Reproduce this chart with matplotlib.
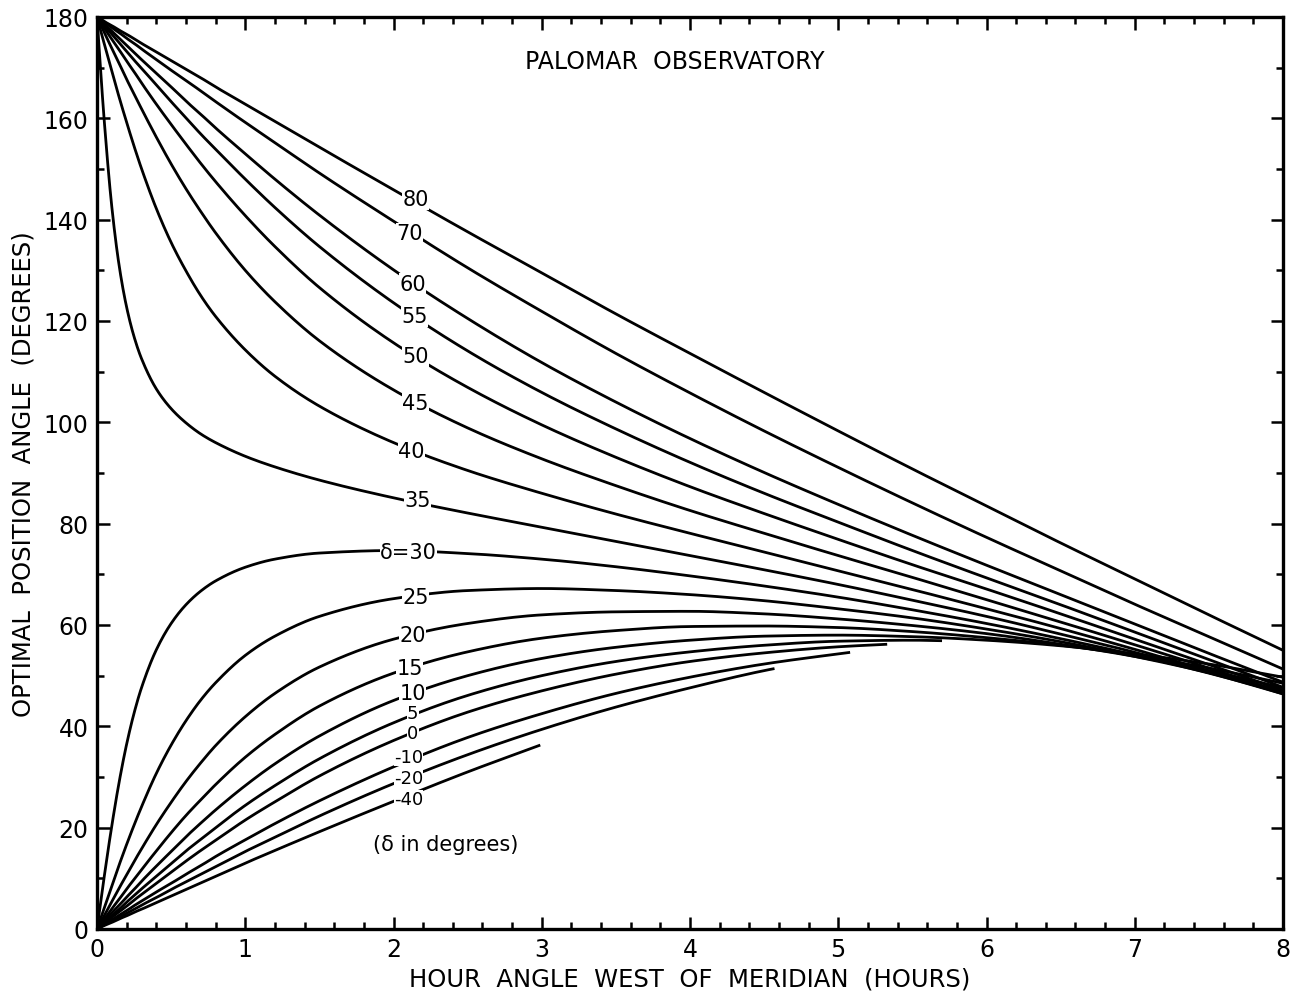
# Optimal position angle vs hour angle, Palomar Observatory

import numpy as np
import matplotlib
matplotlib.use("Agg")
import matplotlib.pyplot as plt
from matplotlib.ticker import MultipleLocator

# hour angle grid (hours west of meridian)
hours = [0, 0.02, 0.05, 0.1, 0.15, 0.2, 0.25, 0.3, 0.4, 0.5, 0.6, 0.7, 0.8, 1.0, 1.2,
         1.5, 2, 2.5, 3, 3.5, 4, 4.5, 5, 5.5, 6, 6.5, 7, 7.5, 8]

# optimal position angle (degrees) for each declination
pa_80 = [180.0, 179.7, 179.1, 178.3, 177.4, 176.6, 175.7, 174.8, 173.1, 171.4, 169.7, 168.0, 166.2, 162.8,
         159.4, 154.3, 145.9, 137.6, 129.5, 121.4, 113.6, 105.9, 98.3, 90.8, 83.5, 76.2, 69.1, 62.0, 55.0]
pa_70 = [180.0, 179.6, 179.0, 177.9, 176.9, 175.8, 174.8, 173.7, 171.6, 169.5, 167.5, 165.4, 163.3, 159.2,
         155.2, 149.2, 139.7, 130.5, 121.9, 113.6, 105.8, 98.3, 91.1, 84.1, 77.3, 70.7, 64.1, 57.7, 51.3]
pa_60 = [180.0, 179.4, 178.6, 177.2, 175.8, 174.4, 173.0, 171.6, 168.9, 166.2, 163.4, 160.8, 158.1, 153.0,
         148.0, 140.9, 130.1, 120.5, 111.8, 104.0, 96.8, 90.1, 83.8, 77.7, 71.8, 66.0, 60.2, 54.4, 48.7]
pa_55 = [180.0, 179.3, 178.3, 176.6, 174.9, 173.2, 171.5, 169.9, 166.6, 163.3, 160.1, 156.9, 153.9, 148.0,
         142.4, 134.7, 123.6, 114.1, 105.9, 98.7, 92.1, 86.0, 80.3, 74.7, 69.3, 64.0, 58.6, 53.2, 47.7]
pa_50 = [180.0, 179.1, 177.8, 175.6, 173.5, 171.3, 169.2, 167.0, 162.8, 158.8, 154.9, 151.1, 147.5, 140.8,
         134.7, 126.6, 115.7, 106.9, 99.5, 93.1, 87.3, 82.0, 76.9, 71.9, 67.1, 62.2, 57.2, 52.2, 47.1]
pa_45 = [180.0, 178.8, 176.9, 173.8, 170.8, 167.7, 164.8, 161.9, 156.3, 151.0, 146.1, 141.6, 137.4, 130.0,
         123.8, 116.1, 106.4, 98.9, 92.8, 87.5, 82.6, 78.1, 73.7, 69.4, 65.0, 60.6, 56.1, 51.5, 46.6]
pa_40 = [180.0, 177.8, 174.6, 169.3, 164.1, 159.2, 154.5, 150.1, 142.2, 135.5, 129.9, 125.0, 120.9, 114.3,
         109.1, 103.2, 96.0, 90.5, 86.0, 81.9, 78.1, 74.4, 70.7, 67.0, 63.2, 59.3, 55.2, 50.9, 46.4]
pa_35 = [180.0, 171.3, 159.1, 142.5, 130.8, 122.7, 116.9, 112.6, 106.6, 102.7, 99.9, 97.7, 96.0, 93.3,
         91.2, 88.6, 85.1, 82.1, 79.3, 76.5, 73.7, 70.9, 68.0, 64.9, 61.7, 58.2, 54.6, 50.6, 46.4]
pa_30 = [0.0, 4.3, 10.6, 20.4, 29.1, 36.5, 42.6, 47.6, 55.1, 60.3, 64.0, 66.7, 68.7, 71.4,
         73.0, 74.2, 74.7, 74.1, 73.0, 71.5, 69.7, 67.7, 65.5, 63.0, 60.3, 57.3, 54.1, 50.5, 46.6]
pa_25 = [0.0, 1.7, 4.3, 8.5, 12.7, 16.7, 20.5, 24.1, 30.7, 36.3, 41.1, 45.2, 48.6, 54.0,
         57.8, 61.7, 65.2, 66.8, 67.2, 66.8, 66.0, 64.8, 63.2, 61.4, 59.2, 56.7, 53.8, 50.6, 47.0]
pa_20 = [0.0, 1.1, 2.7, 5.4, 8.1, 10.7, 13.3, 15.8, 20.6, 25.0, 29.1, 32.8, 36.2, 41.9,
         46.5, 51.7, 57.2, 60.3, 62.0, 62.6, 62.7, 62.2, 61.2, 59.9, 58.3, 56.2, 53.8, 51.0, 47.6]
pa_15 = [0.0, 0.8, 2.0, 4.0, 5.9, 7.9, 9.8, 11.7, 15.4, 19.0, 22.4, 25.5, 28.5, 33.9,
         38.4, 44.0, 50.5, 54.7, 57.4, 58.9, 59.7, 59.8, 59.5, 58.7, 57.5, 56.0, 54.0, 51.5, 48.5]
pa_10 = [0.0, 0.6, 1.6, 3.2, 4.7, 6.3, 7.8, 9.4, 12.4, 15.3, 18.2, 20.9, 23.5, 28.3,
         32.6, 38.1, 45.1, 50.0, 53.4, 55.6, 57.0, 57.8, 58.0, 57.7, 57.0, 55.9, 54.3, 52.3, 49.7]
# these curves stop short of 8 h; last value is at the stop hour
pa_5 = [0.0, 0.5, 1.3, 2.6, 3.9, 5.3, 6.6, 7.9, 10.4, 12.9, 15.4, 17.7, 20.0, 24.4,
        28.3, 33.6, 40.7, 46.1, 50.0, 52.8, 54.7, 56.0, 56.8, 57.0, 56.9]
pa_0 = [0.0, 0.5, 1.1, 2.3, 3.4, 4.5, 5.7, 6.8, 9.0, 11.2, 13.4, 15.5, 17.5, 21.5,
        25.1, 30.2, 37.2, 42.8, 47.0, 50.3, 52.8, 54.5, 55.7, 56.2]
pa_m10 = [0.0, 0.4, 0.9, 1.8, 2.7, 3.6, 4.6, 5.5, 7.3, 9.0, 10.8, 12.5, 14.3, 17.6,
          20.8, 25.3, 32.0, 37.8, 42.5, 46.5, 49.7, 52.3, 54.3, 54.6]
pa_m20 = [0.0, 0.3, 0.8, 1.6, 2.3, 3.1, 3.9, 4.7, 6.2, 7.8, 9.3, 10.8, 12.3, 15.3,
          18.1, 22.3, 28.7, 34.4, 39.4, 43.8, 47.6, 51.0, 51.4]
pa_m40 = [0.0, 0.3, 0.7, 1.3, 2.0, 2.6, 3.3, 3.9, 5.2, 6.5, 7.8, 9.1, 10.4, 13.0,
          15.5, 19.2, 25.2, 31.0, 36.3]

stop_hours = {"5": 5.70, "0": 5.33, "-10": 5.08, "-20": 4.57, "-40": 2.99}

curves = [("80", pa_80), ("70", pa_70), ("60", pa_60), ("55", pa_55), ("50", pa_50),
          ("45", pa_45), ("40", pa_40), ("35", pa_35), ("\u03b4=30", pa_30), ("25", pa_25),
          ("20", pa_20), ("15", pa_15), ("10", pa_10), ("5", pa_5), ("0", pa_0),
          ("-10", pa_m10), ("-20", pa_m20), ("-40", pa_m40)]

# label positions (hour, angle)
label_pos = {"80": (2.15, 144.0), "70": (2.11, 137.3), "60": (2.13, 127.4), "55": (2.14, 120.9),
             "50": (2.15, 113.0), "45": (2.15, 103.9), "40": (2.12, 94.4), "35": (2.16, 84.6),
             "\u03b4=30": (2.10, 74.5), "25": (2.15, 65.6), "20": (2.13, 58.1), "15": (2.11, 51.6),
             "10": (2.13, 46.6), "5": (2.13, 42.6), "0": (2.13, 38.7), "-10": (2.10, 34.0),
             "-20": (2.10, 29.8), "-40": (2.10, 25.6)}
small_labels = ["5", "0", "-10", "-20", "-40"]


def _smooth(x, y, n=16):
    """Draw a smooth line through the points (monotone cubic Hermite)"""
    x = np.asarray(x, float)
    y = np.asarray(y, float)
    h = np.diff(x)
    d = np.diff(y) / h
    m = np.zeros_like(y)
    m[0], m[-1] = d[0], d[-1]
    for k in range(1, len(x) - 1):
        if d[k - 1] * d[k] > 0:
            w1 = 2 * h[k] + h[k - 1]
            w2 = h[k] + 2 * h[k - 1]
            m[k] = (w1 + w2) / (w1 / d[k - 1] + w2 / d[k])
    xs, ys = [x[0]], [y[0]]
    for k in range(len(x) - 1):
        t = np.linspace(0, 1, n + 1)[1:]
        h00 = 2 * t ** 3 - 3 * t ** 2 + 1
        h10 = t ** 3 - 2 * t ** 2 + t
        h01 = -2 * t ** 3 + 3 * t ** 2
        h11 = t ** 3 - t ** 2
        xs.extend(x[k] + t * h[k])
        ys.extend(h00 * y[k] + h10 * h[k] * m[k] + h01 * y[k + 1] + h11 * h[k] * m[k + 1])
    return xs, ys


fig = plt.figure(figsize=(12.98, 10.03), dpi=100)
ax = fig.add_axes([97 / 1298, 1 - 930 / 1003, (1283 - 97) / 1298, (930 - 18) / 1003])

for name, vals in curves:
    if name in stop_hours:
        x = hours[:len(vals) - 1] + [stop_hours[name]]
    else:
        x = hours
    xs, ys = _smooth(x, vals)
    ax.plot(xs, ys, color="black", lw=2.0, solid_capstyle="butt", zorder=2)

for name, (lx, ly) in label_pos.items():
    fs = 13 if name in small_labels else 15
    ax.text(lx, ly, name, fontsize=fs, ha="center", va="center", zorder=3,
            bbox=dict(facecolor="white", edgecolor="none", pad=0.1))

ax.text(3.9, 171.3, "PALOMAR  OBSERVATORY", fontsize=17, ha="center", va="center")
ax.text(2.35, 16.8, "(\u03b4 in degrees)", fontsize=15, ha="center", va="center")

ax.set_xlim(0, 8)
ax.set_ylim(0, 180)
ax.xaxis.set_major_locator(MultipleLocator(1))
ax.xaxis.set_minor_locator(MultipleLocator(0.2))
ax.yaxis.set_major_locator(MultipleLocator(20))
ax.yaxis.set_minor_locator(MultipleLocator(10))
ax.tick_params(which="both", direction="in", top=True, right=True, width=1.8, labelsize=17)
ax.tick_params(which="major", length=9, pad=6)
ax.tick_params(which="minor", length=5)
for s in ax.spines.values():
    s.set_linewidth(2.4)

ax.set_xlabel("HOUR  ANGLE  WEST  OF  MERIDIAN  (HOURS)", fontsize=17.5, labelpad=4)
ax.set_ylabel("OPTIMAL  POSITION  ANGLE  (DEGREES)", fontsize=17.5, labelpad=6)

fig.savefig("out.png")
